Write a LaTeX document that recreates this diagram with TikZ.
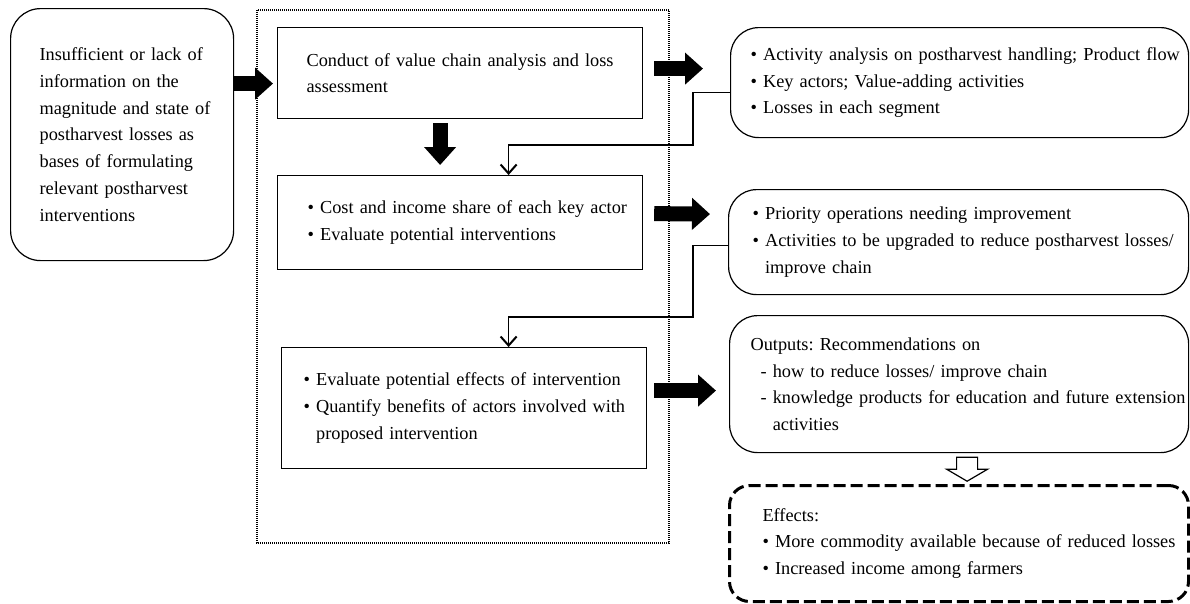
\documentclass[tikz,border=0pt]{standalone}
\usepackage{fontspec}
\setmainfont{Liberation Serif}
\usetikzlibrary{arrows.meta}
\newcommand{\bul}{\textbullet\ }
\newcommand{\hng}{\phantom{\textbullet\ }}
\frenchspacing

\begin{document}
\begin{tikzpicture}[x=1pt,y=-1pt]
\tikzstyle{every node}=[font=\fontsize{18.3}{26.7}\selectfont]
\tikzstyle{box}=[draw, line width=1.2pt, anchor=north west, align=left, inner sep=0pt]
\tikzset{lpad/.style={execute at begin node={\leftskip=#1}}}
\tikzstyle{bigarrow}=[line width=15pt, -{Triangle[width=31pt,length=18pt]}]
\tikzstyle{conn}=[line width=1.2pt, -{Straight Barb[length=9pt,width=16pt,line width=2pt]}]

\useasboundingbox (0,0) rectangle (1190,603);

% dotted frame round the three steps
\draw[line width=1.3pt, dash pattern=on 1pt off 1pt] (257,10) rectangle (669,543);

\node[box, rounded corners=30pt, minimum width=223pt, minimum height=252pt,
      text width=223pt, lpad=29pt] (info) at (10,8)
  {Insufficient or lack of\\ information on the\\ magnitude and state of\\
   postharvest losses as\\ bases of formulating\\ relevant postharvest\\ interventions};

\node[box, minimum width=365pt, minimum height=91pt, text width=365pt, lpad=29pt]
  (conduct) at (277,27)
  {Conduct of value chain analysis and loss\\ assessment};
\node[box, minimum width=365pt, minimum height=94pt, text width=365pt, lpad=30pt]
  (cost) at (277,175)
  {\bul Cost and income share of each key actor\\ \bul Evaluate potential interventions};
\node[box, minimum width=365pt, minimum height=121pt, text width=365pt, lpad=22pt]
  (evaluate) at (281,347)
  {\bul Evaluate potential effects of intervention\\
   \bul Quantify benefits of actors involved with\\ \hng proposed intervention};

\node[box, rounded corners=28pt, minimum width=458pt, minimum height=110pt,
      text width=458pt, lpad=20pt] (activity) at (730,27)
  {\bul Activity analysis on postharvest handling; Product flow\\
   \bul Key actors; Value-adding activities\\ \bul Losses in each segment};
\node[box, rounded corners=28pt, minimum width=460pt, minimum height=105pt,
      text width=460pt, lpad=24pt] (priority) at (728,189)
  {\bul Priority operations needing improvement\\
   \bul Activities to be upgraded to reduce postharvest losses/\\ \hng improve chain};
\node[box, rounded corners=28pt, minimum width=459pt, minimum height=137pt,
      text width=459pt, lpad=21pt] (outputs) at (729,315)
  {Outputs: Recommendations on\\
   \hspace*{10pt}- how to reduce losses/ improve chain\\
   \hspace*{10pt}- knowledge products for education and future extension\\
   \hspace*{10pt}\phantom{- }activities};
\node[box, line width=3pt, dash pattern=on 12pt off 5pt, rounded corners=20pt,
      minimum width=459pt, minimum height=116pt, text width=459pt, lpad=33pt]
  (effects) at (728,484)
  {Effects:\\ \bul More commodity available because of reduced losses\\
   \bul Increased income among farmers};

% block arrows
\draw[bigarrow] ([yshift=51pt]info.east) -- ([xshift=-4pt,yshift=-10.5pt]conduct.west);
\draw[bigarrow] ([xshift=11pt,yshift=4.5pt]conduct.east) -- ([xshift=-27pt,yshift=14pt]activity.west);
\draw[bigarrow] ([xshift=-20pt,yshift=-4pt]conduct.south) -- ([xshift=-20pt,yshift=10pt]cost.north);
\draw[bigarrow] ([xshift=11pt,yshift=9pt]cost.east) -- ([xshift=-18pt,yshift=28pt]priority.west);
\draw[bigarrow] ([xshift=7pt,yshift=17.5pt]evaluate.east) -- ([xshift=-13pt,yshift=-6.5pt]outputs.west);

% feedback lines
\draw[conn] ([yshift=-10pt]activity.west) -- ++(-37,0)
  |- ([xshift=48.5pt,yshift=30pt]cost.north) -- ([xshift=48.5pt]cost.north);
\draw[conn] ([yshift=-3.5pt]priority.west) -- ++(-35,0)
  |- ([xshift=44.5pt,yshift=30pt]evaluate.north) -- ([xshift=44.5pt]evaluate.north);

% hollow arrow
\draw[line width=1.2pt, fill=white] ([xshift=-2.5pt,yshift=-4pt]outputs.south)
  -- ++(21,0) -- ++(0,12) -- ++(10,0) -- ++(-20.5,12) -- ++(-20.5,-12) -- ++(10,0) -- cycle;
\end{tikzpicture}
\end{document}
